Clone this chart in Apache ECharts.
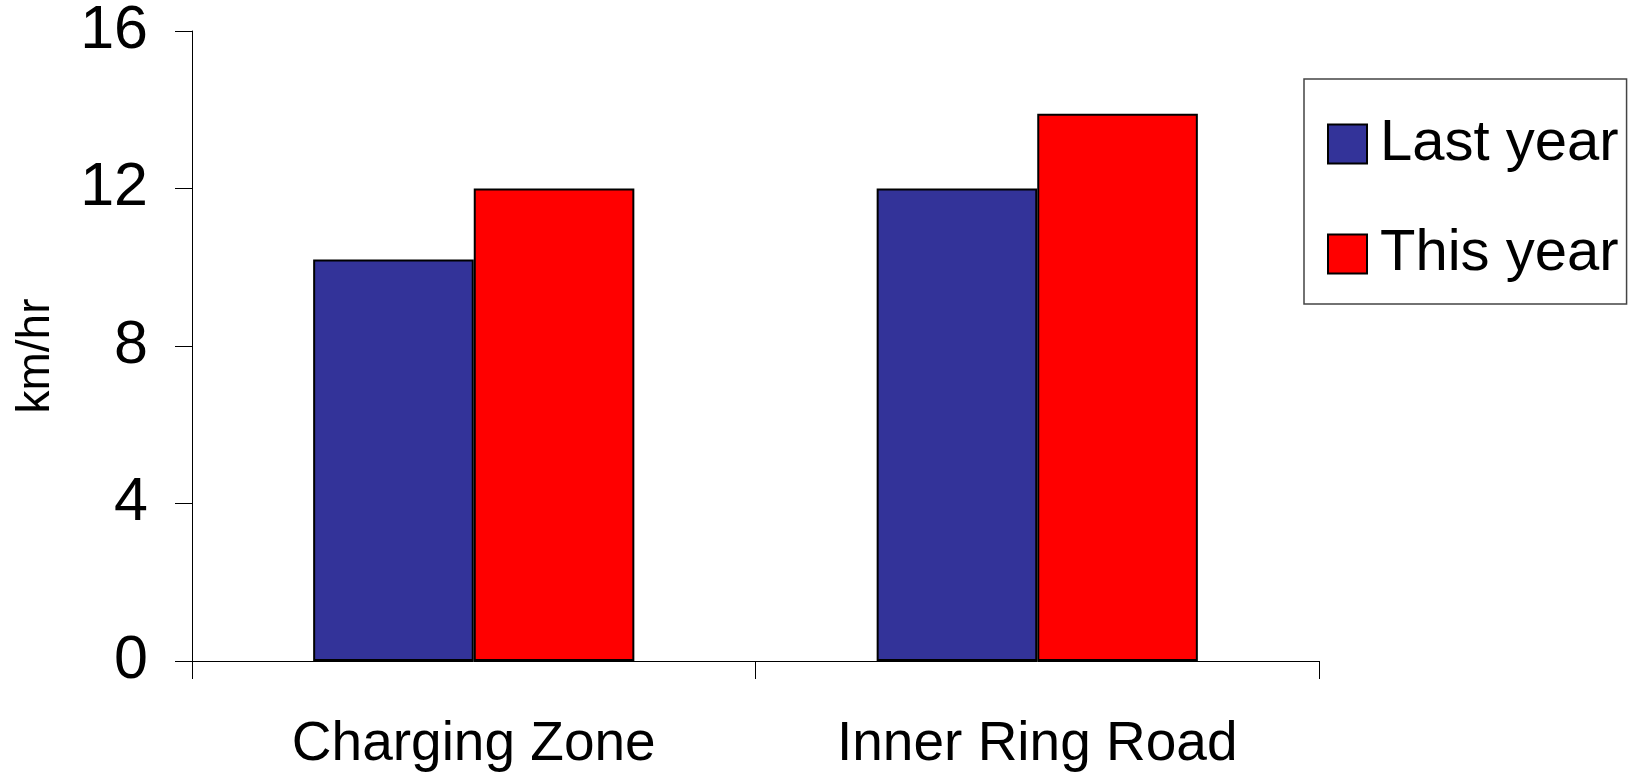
<!DOCTYPE html>
<html>
<head>
<meta charset="utf-8">
<script src="https://cdn.jsdelivr.net/npm/echarts@6/dist/echarts.min.js"></script>
<style>
html,body{margin:0;padding:0;background:#fff;}
#chart{width:1639px;height:773px;}
</style>
</head>
<body>
<div id="chart"></div>
<script>
const categories = ['Charging Zone', 'Inner Ring Road'];
const lastYear = [10.2, 12];
const thisYear = [12, 13.9];
const yTicks = [0, 4, 8, 12, 16];

const FONT = '"Liberation Sans", Arial, sans-serif';
const chart = echarts.init(document.getElementById('chart'));
chart.setOption({
  animation: false,
  backgroundColor: '#ffffff',
  grid: { left: 192, right: 320, top: 31, bottom: 112, containLabel: false, outerBoundsMode: 'none' },
  legend: {
    orient: 'vertical',
    left: 1304, top: 79,
    padding: [36, 8, 21, 23],
    itemWidth: 39, itemHeight: 39, itemGap: 52,
    icon: 'rect',
    borderColor: '#444', borderWidth: 1.5,
    textStyle: { fontFamily: FONT, fontSize: 58, color: '#000', padding: [0, 0, 0, 8] },
    data: ['Last year', 'This year']
  },
  xAxis: {
    type: 'category',
    data: categories,
    axisLine: { lineStyle: { color: '#000', width: 1 } },
    axisTick: { show: true, alignWithLabel: false, length: 18, lineStyle: { color: '#000' } },
    axisLabel: { fontFamily: FONT, fontSize: 55, color: '#000', margin: 56 },
    splitLine: { show: false }
  },
  yAxis: {
    type: 'value',
    min: yTicks[0], max: yTicks[yTicks.length - 1], interval: 4,
    name: 'km/hr', nameLocation: 'middle', nameRotate: 90, nameGap: 133,
    nameTextStyle: { fontFamily: FONT, fontSize: 46, color: '#000', padding: [0, 20, 0, 0] },
    axisLine: { show: true, lineStyle: { color: '#000', width: 1 } },
    axisTick: { show: true, length: 17, lineStyle: { color: '#000' } },
    axisLabel: { fontFamily: FONT, fontSize: 61, color: '#000', margin: 44 },
    splitLine: { show: false }
  },
  series: [
    {
      name: 'Last year', type: 'bar', data: lastYear,
      barGap: '0%', barCategoryGap: '43%',
      itemStyle: { color: '#333399', borderColor: '#000', borderWidth: 2 }
    },
    {
      name: 'This year', type: 'bar', data: thisYear,
      barGap: '0%', barCategoryGap: '43%',
      itemStyle: { color: '#ff0000', borderColor: '#000', borderWidth: 2 }
    }
  ]
});
</script>
</body>
</html>
